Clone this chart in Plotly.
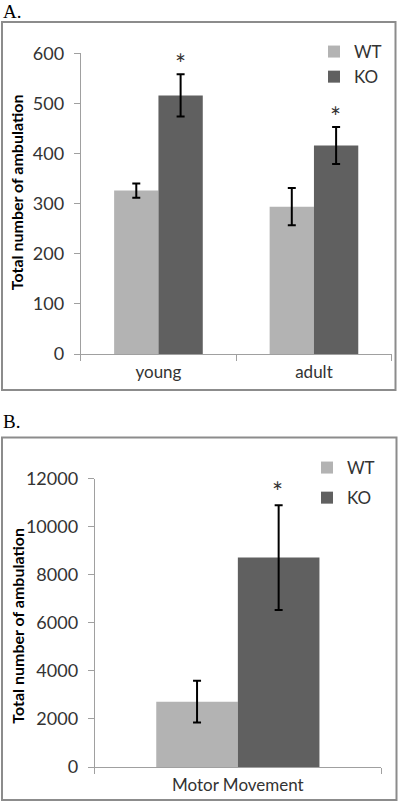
import plotly.graph_objects as go

W, H = 400, 802

# ---- data ----
series_names = ["WT", "KO"]
cats_a = ["young", "adult"]
wt_a = [326, 294]
wt_a_err = [14, 37]
ko_a = [516, 416]
ko_a_err = [42, 37]

cats_b = ["Motor Movement"]
wt_b = [2720]
wt_b_err = [870]
ko_b = [8720]
ko_b_err = [2180]

yticks_a = [0, 100, 200, 300, 400, 500, 600]
yticks_b = [0, 2000, 4000, 6000, 8000, 10000, 12000]

ytitle = "Total number of ambulation"

# ---- style ----
WT_COLOR = "#b3b3b3"
KO_COLOR = "#606060"
TXT = "#333333"
AXC = "#a0a0a0"
FONT = "Lato, Open Sans, sans-serif"


def px_x(p):
    return p / W


def px_y(p):
    return 1 - p / H


fig = go.Figure()

err_style = dict(type="data", color="black", thickness=2)

fig.add_trace(go.Bar(x=cats_a, y=wt_a, name=series_names[0], marker_color=WT_COLOR,
                     error_y=dict(array=wt_a_err, width=4, **err_style),
                     xaxis="x", yaxis="y", legend="legend"))
fig.add_trace(go.Bar(x=cats_a, y=ko_a, name=series_names[1], marker_color=KO_COLOR,
                     error_y=dict(array=ko_a_err, width=4, **err_style),
                     xaxis="x", yaxis="y", legend="legend"))
fig.add_trace(go.Bar(x=cats_b, y=wt_b, name=series_names[0], marker_color=WT_COLOR,
                     error_y=dict(array=wt_b_err, width=4, **err_style),
                     xaxis="x2", yaxis="y2", legend="legend2", legendgroup="wtB"))
fig.add_trace(go.Bar(x=cats_b, y=ko_b, name=series_names[1], marker_color=KO_COLOR,
                     error_y=dict(array=ko_b_err, width=4, **err_style),
                     xaxis="x2", yaxis="y2", legend="legend2", legendgroup="koB"))

fig.update_traces(marker_line_width=0)

xcommon = dict(type="category", showline=True, linecolor=AXC, linewidth=1,
               ticks="outside", tickson="boundaries", ticklen=6, tickcolor=AXC,
               showgrid=False, zeroline=False, automargin=False,
               ticklabelstandoff=3,
               tickfont=dict(family=FONT, size=17, color=TXT))
ycommon = dict(showline=True, linecolor=AXC, linewidth=1, ticks="outside",
               ticklen=6, tickcolor=AXC, showgrid=False, zeroline=False,
               tickformat="d", automargin=False, ticklabelstandoff=6,
               tickfont=dict(family=FONT, size=18, color=TXT))

fig.update_layout(
    width=W, height=H, autosize=False,
    margin=dict(l=0, r=0, t=0, b=0),
    paper_bgcolor="white", plot_bgcolor="white",
    barmode="group", bargap=0.43, bargroupgap=0,
    xaxis=dict(domain=[px_x(80.7), px_x(391.7)], anchor="y", **xcommon),
    yaxis=dict(domain=[px_y(354), px_y(53.3)], anchor="x", range=[0, 600],
               tickvals=yticks_a, **ycommon),
    xaxis2=dict(domain=[px_x(94.7), px_x(381)], anchor="y2", **xcommon),
    yaxis2=dict(domain=[px_y(767), px_y(478.7)], anchor="x2", range=[0, 12000],
                tickvals=yticks_b, **ycommon),
    legend=dict(x=px_x(314), y=px_y(34), xanchor="left", yanchor="top",
                font=dict(family=FONT, size=17, color=TXT), bgcolor="rgba(0,0,0,0)",
                itemwidth=30, tracegroupgap=0),
    legend2=dict(x=px_x(307), y=px_y(450), xanchor="left", yanchor="top",
                 font=dict(family=FONT, size=17, color=TXT), bgcolor="rgba(0,0,0,0)",
                 itemwidth=30, tracegroupgap=5),
    showlegend=True,
)

# panel borders
fig.add_shape(type="rect", xref="paper", yref="paper",
              x0=px_x(2), x1=px_x(395.5), y0=px_y(390), y1=px_y(22),
              line=dict(color="#8c8c8c", width=2), fillcolor="rgba(0,0,0,0)")
fig.add_shape(type="rect", xref="paper", yref="paper",
              x0=px_x(2), x1=px_x(396.5), y0=px_y(800), y1=px_y(437.5),
              line=dict(color="#8c8c8c", width=2), fillcolor="rgba(0,0,0,0)")

# panel letters
fig.add_annotation(text="A.", xref="paper", yref="paper", x=px_x(1), y=px_y(12),
                   xanchor="left", yanchor="middle", showarrow=False,
                   font=dict(family="Liberation Serif", size=19, color="black"))
fig.add_annotation(text="B.", xref="paper", yref="paper", x=px_x(1), y=px_y(421),
                   xanchor="left", yanchor="middle", showarrow=False,
                   font=dict(family="Liberation Serif", size=19, color="black"))

# y-axis titles
for yc, xc in [(192.5, 16.7), (625.7, 18)]:
    fig.add_annotation(text="<b>" + ytitle + "</b>", xref="paper", yref="paper",
                       x=px_x(xc), y=px_y(yc), xanchor="center", yanchor="middle",
                       textangle=-90, showarrow=False,
                       font=dict(family=FONT, size=16, color="black"))

# significance asterisks over KO bars
for c, v, e in zip(cats_a, ko_a, ko_a_err):
    fig.add_annotation(text="*", x=c, y=v + e, xref="x", yref="y", xshift=22,
                       yanchor="bottom", yshift=-8, showarrow=False,
                       font=dict(family=FONT, size=26, color=TXT))
for c, v, e in zip(cats_b, ko_b, ko_b_err):
    fig.add_annotation(text="*", x=c, y=v + e, xref="x2", yref="y2", xshift=40,
                       yanchor="bottom", yshift=-5, showarrow=False,
                       font=dict(family=FONT, size=26, color=TXT))

fig.write_html("out.html", config={"displayModeBar": False},
               post_script="document.body.style.margin='0';document.body.style.padding='0';")
